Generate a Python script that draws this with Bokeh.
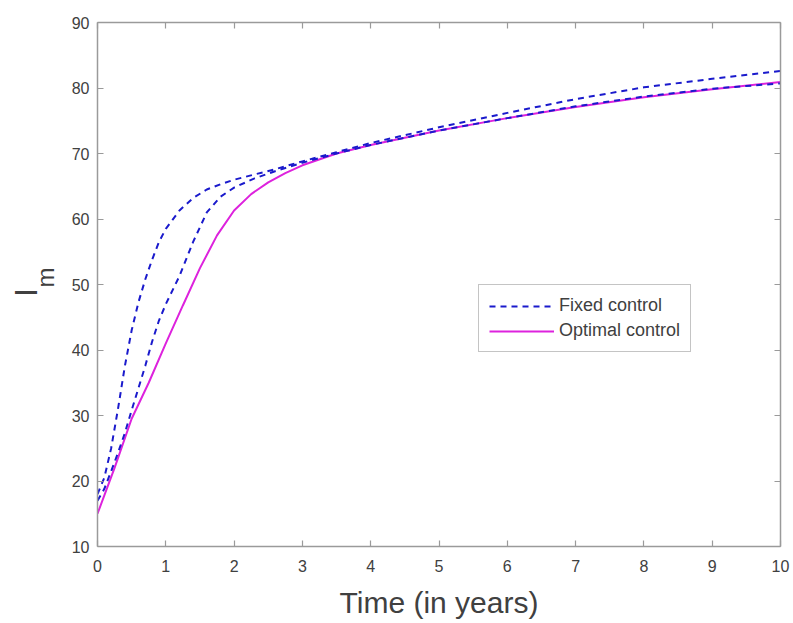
from bokeh.plotting import figure
from bokeh.models import (Legend, LegendItem, LinearAxis, Range1d, Label,
                          FixedTicker)
from bokeh.layouts import row
from bokeh.embed import file_html
from bokeh.resources import INLINE

# ---- data ----
t_fixed = [0, 0.1, 0.2, 0.3, 0.4, 0.5, 0.6, 0.7, 0.8, 0.9, 1.0, 1.2, 1.4, 1.6,
           1.8, 2.0, 2.3, 2.6, 3.0, 3.5, 4.0, 5.0, 6.0, 7.0, 8.0, 9.0, 10.0]
fixed_1 = [18, 20.5, 25, 31, 37.5, 43, 47.3, 50.8, 53.8, 56.5, 58.5, 61.3, 63.2,
           64.5, 65.3, 66, 66.8, 67.6, 68.8, 70.2, 71.6, 74, 76.2, 78.3, 80.1,
           81.4, 82.6]
fixed_2 = [17, 18.8, 21.5, 24.3, 27.3, 30.8, 34.2, 37.6, 41.3, 44.5, 47, 51.3,
           56.5, 61, 63.4, 64.8, 66.2, 67.3, 68.6, 70, 71.3, 73.5, 75.4, 77.2,
           78.7, 79.9, 80.7]
t_opt = [0, 0.25, 0.5, 0.75, 1.0, 1.25, 1.5, 1.75, 2.0, 2.25, 2.5, 2.75, 3.0,
         3.5, 4.0, 5.0, 6.0, 7.0, 8.0, 9.0, 10.0]
optimal = [15, 22, 29.5, 35, 41, 46.8, 52.5, 57.5, 61.3, 63.8, 65.6, 67, 68.2,
           70, 71.3, 73.5, 75.4, 77.1, 78.6, 79.8, 80.9]

x_ticks = [0, 1, 2, 3, 4, 5, 6, 7, 8, 9, 10]
y_ticks = [10, 20, 30, 40, 50, 60, 70, 80, 90]
x_label = "Time (in years)"
y_label_main = "I"
y_label_sub = "m"
legend_labels = ["Fixed control", "Optimal control"]

FONT = "Liberation Sans"
AX_COLOR = "#9a9a9a"
TXT_COLOR = "#404040"

LABEL_W = 66      # width of the strip that holds the rotated y label
FRAME_TOP = 22
FRAME_BOTTOM = 546

# ---- strip holding the y-axis label (its frame is aligned with the plot) ----
ylab = figure(width=LABEL_W, height=623, output_backend="svg",
              toolbar_location=None, x_range=Range1d(0, LABEL_W),
              y_range=Range1d(FRAME_BOTTOM, FRAME_TOP), min_border=0,
              x_axis_location=None, y_axis_location=None)
ylab.xgrid.visible = False
ylab.ygrid.visible = False
ylab.outline_line_color = None
ylab.add_layout(Label(x=25, y=292, text=y_label_main, angle=1.5708,
                      text_font=FONT, text_font_size="32px",
                      text_color=TXT_COLOR, text_align="center",
                      text_baseline="alphabetic"))
ylab.add_layout(Label(x=45, y=277, text=y_label_sub, angle=1.5708,
                      text_font=FONT, text_font_size="24px",
                      text_color=TXT_COLOR, text_align="center",
                      text_baseline="alphabetic"))

# ---- main plot ----
p = figure(width=793 - LABEL_W, height=623, output_backend="svg",
           toolbar_location=None,
           x_range=Range1d(0, 10), y_range=Range1d(10, 90),
           min_border_left=97 - LABEL_W, min_border_right=13,
           min_border_top=FRAME_TOP, min_border_bottom=623 - FRAME_BOTTOM,
           x_axis_location=None, y_axis_location=None)
p.xgrid.visible = False
p.ygrid.visible = False
p.outline_line_color = None


def style_axis(ax, ticks, show_labels, standoff):
    ax.ticker = FixedTicker(ticks=ticks)
    ax.axis_line_color = AX_COLOR
    ax.axis_line_width = 1.5
    ax.major_tick_line_color = AX_COLOR
    ax.major_tick_line_width = 1.2
    ax.major_tick_in = 6
    ax.major_tick_out = 0
    ax.minor_tick_line_color = None
    ax.major_label_text_font = FONT
    if show_labels:
        ax.major_label_text_color = TXT_COLOR
        ax.major_label_text_font_size = "16px"
        ax.major_label_standoff = standoff
    else:
        ax.major_label_text_color = None
        ax.major_label_text_font_size = "9px"
        ax.major_label_standoff = 0


bottom = LinearAxis()
top = LinearAxis()
left = LinearAxis()
right = LinearAxis()
style_axis(bottom, x_ticks, True, 13)
style_axis(top, x_ticks, False, 0)
style_axis(left, y_ticks, True, 8)
style_axis(right, y_ticks, False, 0)
bottom.axis_label = x_label
bottom.axis_label_text_font = FONT
bottom.axis_label_text_font_size = "30px"
bottom.axis_label_text_font_style = "normal"
bottom.axis_label_text_color = TXT_COLOR
bottom.axis_label_standoff = 11
p.add_layout(bottom, "below")
p.add_layout(top, "above")
p.add_layout(left, "left")
p.add_layout(right, "right")

r_opt = p.line(t_opt, optimal, line_color="#dd22dd", line_width=2)
r_f1 = p.line(t_fixed, fixed_1, line_color="#1a1acc", line_width=2,
              line_dash="6 5")
r_f2 = p.line(t_fixed, fixed_2, line_color="#1a1acc", line_width=2,
              line_dash="6 5")

legend = Legend(items=[LegendItem(label=legend_labels[0], renderers=[r_f1]),
                       LegendItem(label=legend_labels[1], renderers=[r_opt])],
                location=(381, 194))
legend.label_text_font = FONT
legend.label_text_font_size = "18px"
legend.label_text_color = TXT_COLOR
legend.glyph_width = 65
legend.glyph_height = 18
legend.label_standoff = 5
legend.label_height = 20
legend.padding = 10
legend.spacing = 4
legend.margin = 0
legend.border_line_color = "#8a8a8a"
legend.border_line_width = 1
legend.background_fill_color = "white"
legend.background_fill_alpha = 1
p.add_layout(legend)

layout = row(ylab, p, spacing=0)
open("out.html", "w").write(file_html(layout, INLINE))
